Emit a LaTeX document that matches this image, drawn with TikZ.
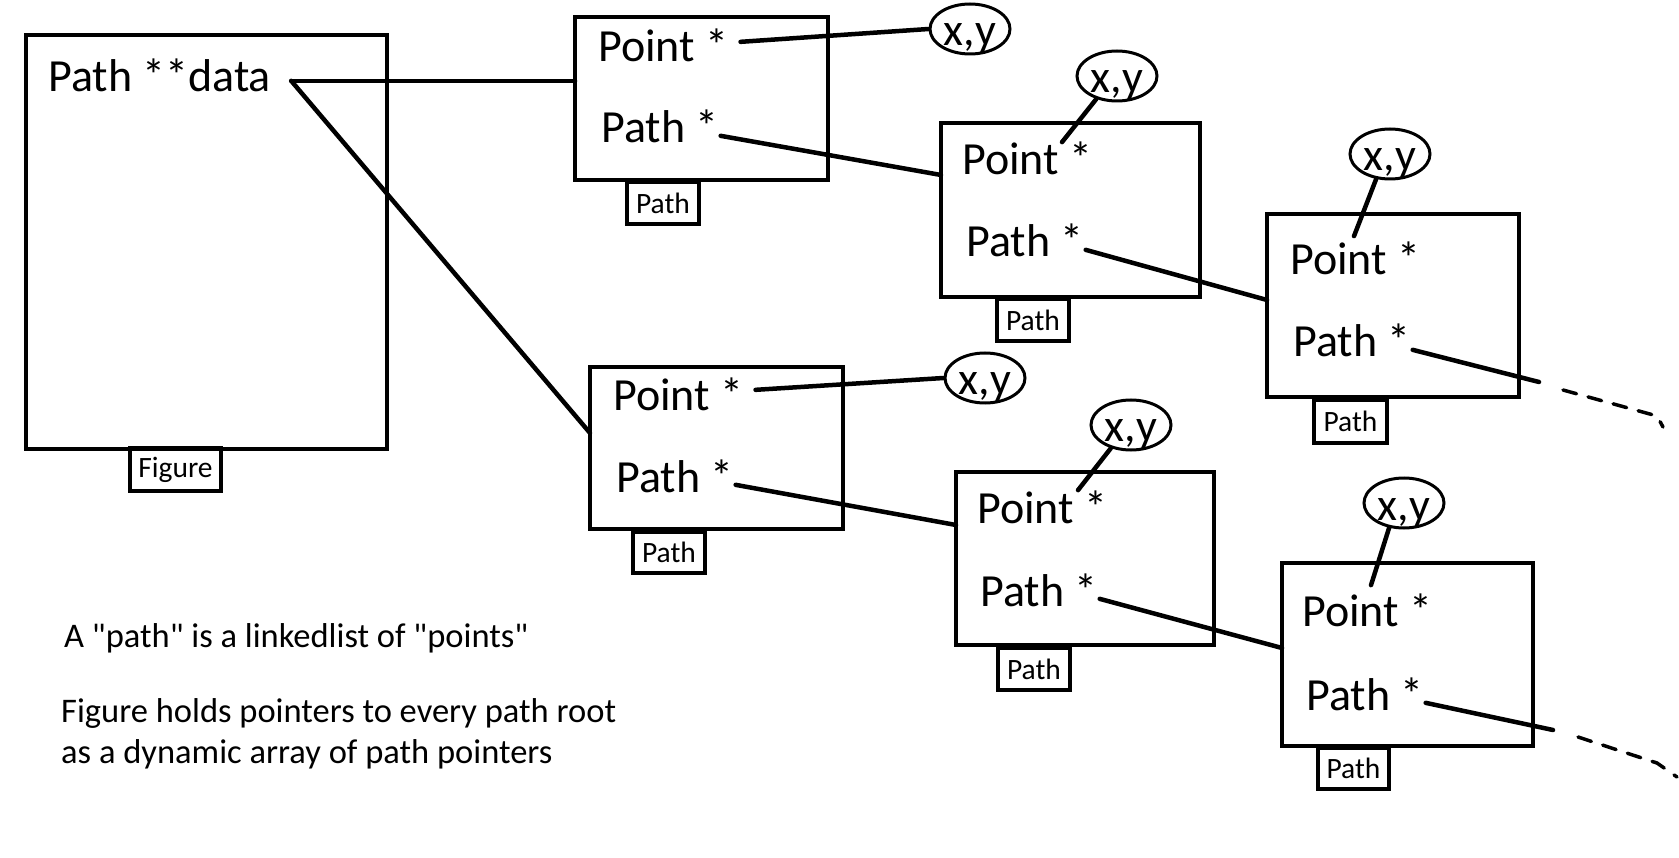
\documentclass[tikz,border=0pt]{standalone}
\usepackage{fontspec}
\setmainfont{Carlito}
\newfontfamily\plainquotes{Carlito}
\usetikzlibrary{calc, shapes.geometric}
\tikzset{
  cell/.style={draw, line width=4.5pt, anchor=north west, inner sep=0pt, outer sep=0pt},
  tagbox/.style={draw, line width=4pt, anchor=north west, inner sep=0pt, outer sep=0pt,
                 minimum width=72pt, minimum height=42pt, font=\fontsize{29.5}{30}\selectfont},
  bigtxt/.style={anchor=base west, inner sep=0pt, font=\fontsize{46}{50}\selectfont},
  notetxt/.style={anchor=base west, inner sep=0pt, font=\fontsize{34.5}{41}\selectfont},
  xyoval/.style={ellipse, draw, line width=3pt, inner sep=0pt, minimum width=80pt, minimum height=50pt,
                 text height=34pt, text depth=0pt, font=\fontsize{46}{50}\selectfont},
  wire/.style={line width=4.5pt, line cap=round},
  tailwire/.style={line width=3.5pt, line cap=round, dash pattern=on 14pt off 12pt}
}

\begin{document}
\begin{tikzpicture}[x=1pt, y=-1pt]
  \useasboundingbox (0,0) rectangle (1679,858);

  \node[cell, minimum width=361pt, minimum height=414pt] (fig) at (26,35) {};
  \node[bigtxt] (data) at (48,92) {Path **data};
  \node[tagbox, minimum width=91pt, minimum height=43pt] (figtag) at (130,448) {Figure};

  \node[cell, minimum width=253pt, minimum height=163pt] (b1) at (575,17) {};
  \node[cell, minimum width=259pt, minimum height=174pt] (b2) at (941,123) {};
  \node[cell, minimum width=252pt, minimum height=183pt] (b3) at (1267,214) {};
  \node[cell, minimum width=253pt, minimum height=162pt] (b4) at (590,367) {};
  \node[cell, minimum width=258pt, minimum height=173pt] (b5) at (956,472) {};
  \node[cell, minimum width=251pt, minimum height=183pt] (b6) at (1282,563) {};

  \node[bigtxt] (pt1) at (598,62) {Point *};
  \node[bigtxt] (pa1) at (601,143) {Path *};
  \node[bigtxt] (pt2) at (962,175) {Point *};
  \node[bigtxt] (pa2) at (966,257) {Path *};
  \node[bigtxt] (pt3) at (1290,275) {Point *};
  \node[bigtxt] (pa3) at (1293,357) {Path *};
  \node[bigtxt] (pt4) at (613,410) {Point *};
  \node[bigtxt] (pa4) at (616,492) {Path *};
  \node[bigtxt] (pt5) at (977,523) {Point *};
  \node[bigtxt] (pa5) at (980,606) {Path *};
  \node[bigtxt] (pt6) at (1302,626) {Point *};
  \node[bigtxt] (pa6) at (1306,710) {Path *};

  \node[tagbox] (t1) at (627,182) {Path};
  \node[tagbox] (t2) at (997,299) {Path};
  \node[tagbox, minimum width=73pt, minimum height=43pt] (t3) at (1314,400) {Path};
  \node[tagbox, minimum height=41pt] (t4) at (633,532) {Path};
  \node[tagbox] (t5) at (998,648) {Path};
  \node[tagbox, minimum width=71pt, minimum height=41pt] (t6) at (1318,748) {Path};

  \node[xyoval] (xy1) at (970,29) {x,y};
  \node[xyoval] (xy2) at (1117,76) {x,y};
  \node[xyoval] (xy3) at (1390,154) {x,y};
  \node[xyoval] (xy4) at (985,378) {x,y};
  \node[xyoval] (xy5) at (1131,425) {x,y};
  \node[xyoval] (xy6) at (1404,503) {x,y};

  \coordinate (src) at ($(data.east)+(20,5)$);
  \draw[wire] (src) -- (src -| b1.west);
  \draw[wire] (src) -- ($(b4.north west)+(0,66)$);

  \draw[wire] ($(pt1.east)+(12,-4)$) -- (xy1.west);
  \draw[wire] ($(pt4.east)+(12,-4)$) -- (xy4.west);
  \draw[wire] (xy2.228) -- ($(pt2.north west)+(100,0)$);
  \draw[wire] (xy3.241) -- ($(pt3.north west)+(64,-6)$);
  \draw[wire] (xy5.229) -- ($(pt5.north west)+(101,0)$);
  \draw[wire] (xy6.239) -- ($(pt6.north west)+(69,-8)$);

  \draw[wire] ($(pa1.east)+(2,9)$) -- ($(b2.north west)+(0,52)$);
  \draw[wire] ($(pa2.east)+(2,9)$) -- ($(b3.north west)+(0,86)$);
  \draw[wire] ($(pa4.east)+(2,9)$) -- ($(b5.north west)+(0,53)$);
  \draw[wire] ($(pa5.east)+(2,9)$) -- ($(b6.north west)+(0,85)$);

  \coordinate (cut3) at (1539,382);
  \coordinate (tail3) at (1663,427);
  \coordinate (cut6) at (1553,730);
  \coordinate (tail6) at (1677,777);
  \draw[wire] ($(pa3.east)+(2,9)$) -- (cut3);
  \draw[wire] ($(pa6.east)+(2,9)$) -- (cut6);
  \draw[tailwire] ($(cut3)+(24,8)$) -- ++(94,26) -- (tail3);
  \draw[tailwire] ($(cut6)+(25,7)$) -- ++(79,26) -- (tail6);

  \node[notetxt] (note1) at (64,647) {\plainquotes A "path" is a linkedlist of "points"};
  \node[notetxt] (note2) at (61,722) {Figure holds pointers to every path root};
  \node[notetxt] (note3) at (61,763) {as a dynamic array of path pointers};
\end{tikzpicture}
\end{document}
